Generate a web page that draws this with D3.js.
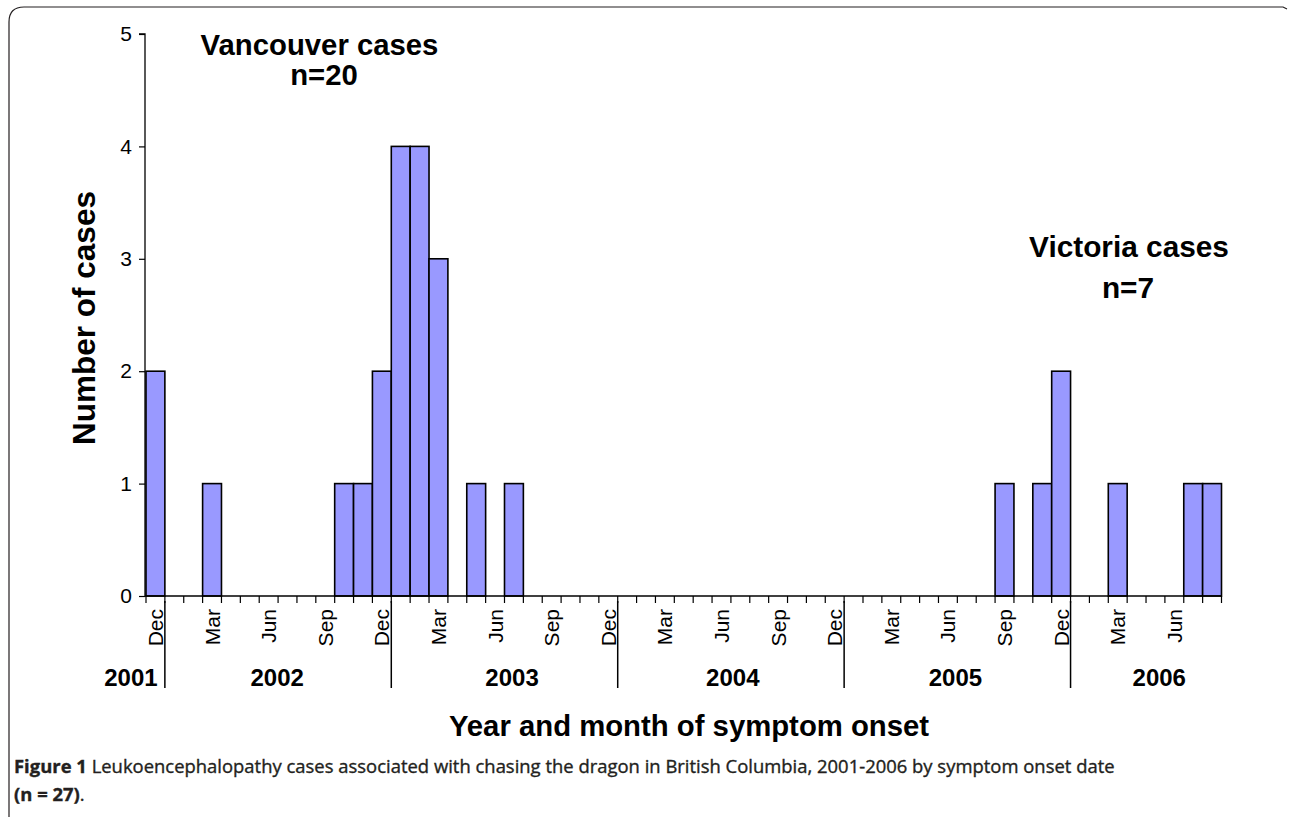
<!DOCTYPE html>
<html>
<head>
<meta charset="utf-8">
<script src="https://cdn.jsdelivr.net/npm/d3@7"></script>
<style>
  html, body { margin: 0; padding: 0; background: #fff; }
  svg { display: block; }
</style>
</head>
<body>
<svg id="chart" width="1290" height="818"></svg>
<script>
// ---------- DATA ----------
const months = [
  "2001-12",
  "2002-01","2002-02","2002-03","2002-04","2002-05","2002-06","2002-07","2002-08","2002-09","2002-10","2002-11","2002-12",
  "2003-01","2003-02","2003-03","2003-04","2003-05","2003-06","2003-07","2003-08","2003-09","2003-10","2003-11","2003-12",
  "2004-01","2004-02","2004-03","2004-04","2004-05","2004-06","2004-07","2004-08","2004-09","2004-10","2004-11","2004-12",
  "2005-01","2005-02","2005-03","2005-04","2005-05","2005-06","2005-07","2005-08","2005-09","2005-10","2005-11","2005-12",
  "2006-01","2006-02","2006-03","2006-04","2006-05","2006-06","2006-07","2006-08"
];
const cases = [
  2,
  0,0,1,0,0,0,0,0,0,1,1,2,
  4,4,3,0,1,0,1,0,0,0,0,0,
  0,0,0,0,0,0,0,0,0,0,0,0,
  0,0,0,0,0,0,0,0,1,0,1,2,
  0,0,1,0,0,0,1,1
];
const monthTickLabels = ["Dec","Mar","Jun","Sep","Dec","Mar","Jun","Sep","Dec","Mar","Jun","Sep","Dec","Mar","Jun","Sep","Dec","Mar","Jun"];
const monthTickKeys = ["2001-12","2002-03","2002-06","2002-09","2002-12","2003-03","2003-06","2003-09","2003-12","2004-03","2004-06","2004-09","2004-12","2005-03","2005-06","2005-09","2005-12","2006-03","2006-06"];
const years = ["2001","2002","2003","2004","2005","2006"];
const yearDividerKeys = ["2002-01","2003-01","2004-01","2005-01","2006-01"];
const yTicks = [0,1,2,3,4,5];

// ---------- LAYOUT ----------
const X0 = 146, X1 = 1221.5, Y0 = 596, YTOP = 34;
// year label anchor positions (in month units from axis start)
const yearLabelOffsets = [-0.8, 6.95, 19.4, 31.1, 42.9, 53.7];
const ARIAL = "'Liberation Sans', Arial, Helvetica, sans-serif";

const svg = d3.select("#chart");

// frame
svg.append("path")
  .attr("d", "M9,817 L9,22 Q9,7 24,7 L1283,7 L1287,9")
  .attr("fill", "none").attr("stroke", "#231f20").attr("stroke-width", 1.2);

const x = d3.scaleBand().domain(months).range([X0, X1]).padding(0);
const y = d3.scaleLinear().domain([0, 5]).range([Y0, YTOP]);
const bw = x.bandwidth();

// bars
svg.append("g").selectAll("rect")
  .data(months.map((m, i) => ({ m, v: cases[i] })).filter(d => d.v > 0))
  .join("rect")
  .attr("x", d => x(d.m))
  .attr("y", d => y(d.v))
  .attr("width", bw)
  .attr("height", d => y(0) - y(d.v))
  .attr("fill", "#9999ff")
  .attr("stroke", "#000")
  .attr("stroke-width", 1.6);

// y axis
const yAxis = d3.axisLeft(y).tickValues(yTicks).tickSize(6).tickPadding(7).tickFormat(d3.format("d"));
const gy = svg.append("g").attr("transform", `translate(${X0 - 1},0)`).call(yAxis);
gy.select(".domain").attr("stroke", "#000").attr("stroke-width", 1.3).attr("d", `M-6,${YTOP}H0V${Y0}`);
gy.selectAll(".tick line").attr("stroke", "#000").attr("stroke-width", 1.2);
gy.selectAll(".tick text").attr("font-family", ARIAL).attr("font-size", 21).attr("fill", "#000");

// x axis line + month boundary ticks
const boundaries = months.map(m => x(m)).concat([X1]);
svg.append("line").attr("x1", X0 - 1).attr("x2", X1).attr("y1", Y0).attr("y2", Y0)
  .attr("stroke", "#000").attr("stroke-width", 1.3);
svg.append("g").selectAll("line").data(boundaries).join("line")
  .attr("x1", d => d).attr("x2", d => d)
  .attr("y1", Y0).attr("y2", Y0 + 7)
  .attr("stroke", "#000").attr("stroke-width", 1.2);

// month labels
svg.append("g").selectAll("text").data(monthTickKeys).join("text")
  .attr("transform", (d) => `translate(${x(d) + bw / 2},${Y0 + 13}) rotate(-90)`)
  .attr("text-anchor", "end")
  .attr("dy", "0.36em")
  .attr("font-family", ARIAL).attr("font-size", 21).attr("fill", "#000")
  .text((d, i) => monthTickLabels[i]);

// year dividers
svg.append("g").selectAll("line").data(yearDividerKeys).join("line")
  .attr("x1", d => x(d)).attr("x2", d => x(d))
  .attr("y1", Y0 + 5).attr("y2", Y0 + 92)
  .attr("stroke", "#000").attr("stroke-width", 1.5);

// year labels
svg.append("g").selectAll("text").data(years).join("text")
  .attr("x", (d, i) => X0 + yearLabelOffsets[i] * bw)
  .attr("y", 686)
  .attr("text-anchor", "middle")
  .attr("font-family", ARIAL).attr("font-weight", "bold").attr("font-size", 24).attr("fill", "#000")
  .text(d => d);

// axis titles
svg.append("text")
  .attr("transform", `translate(95,318) rotate(-90)`)
  .attr("text-anchor", "middle")
  .attr("font-family", ARIAL).attr("font-weight", "bold").attr("font-size", 31.5).attr("fill", "#000")
  .text("Number of cases");

svg.append("text")
  .attr("x", 689).attr("y", 736)
  .attr("text-anchor", "middle")
  .attr("font-family", ARIAL).attr("font-weight", "bold").attr("font-size", 29.3).attr("fill", "#000")
  .text("Year and month of symptom onset");

// annotations
const ann = [
  { lines: ["Vancouver cases", "n=20"], cx: [319.5, 324], base: [55, 85], size: 29.3 },
  { lines: ["Victoria cases", "n=7"], cx: [1129, 1128], base: [257, 298], size: 29.8 }
];
ann.forEach(a => {
  a.lines.forEach((t, i) => {
    svg.append("text")
      .attr("x", a.cx[i]).attr("y", a.base[i])
      .attr("text-anchor", "middle")
      .attr("font-family", ARIAL).attr("font-weight", "bold").attr("font-size", a.size).attr("fill", "#000")
      .text(t);
  });
});

// caption
const capFont = "'Open Sans', 'Noto Sans', sans-serif";
const cap = svg.append("g");
const l1 = cap.append("text").attr("x", 0).attr("y", 0)
  .attr("font-family", capFont).attr("font-size", 17.5).attr("fill", "#231f20")
  .attr("stroke", "#231f20").attr("stroke-width", 0.35);
l1.append("tspan").attr("font-weight", "bold").text("Figure 1");
l1.append("tspan").text(" Leukoencephalopathy cases associated with chasing the dragon in British Columbia, 2001-2006 by symptom onset date");
const l2 = cap.append("text").attr("x", 0).attr("y", 28.5)
  .attr("font-family", capFont).attr("font-size", 17.5).attr("fill", "#231f20")
  .attr("stroke", "#231f20").attr("stroke-width", 0.35);
l2.append("tspan").attr("font-weight", "bold").text("(n = 27)");
l2.append("tspan").text(".");
const w1 = l1.node().getComputedTextLength();
const sx = 1101 / w1;
cap.attr("transform", `translate(14,773) scale(${sx},1)`);
</script>
</body>
</html>
